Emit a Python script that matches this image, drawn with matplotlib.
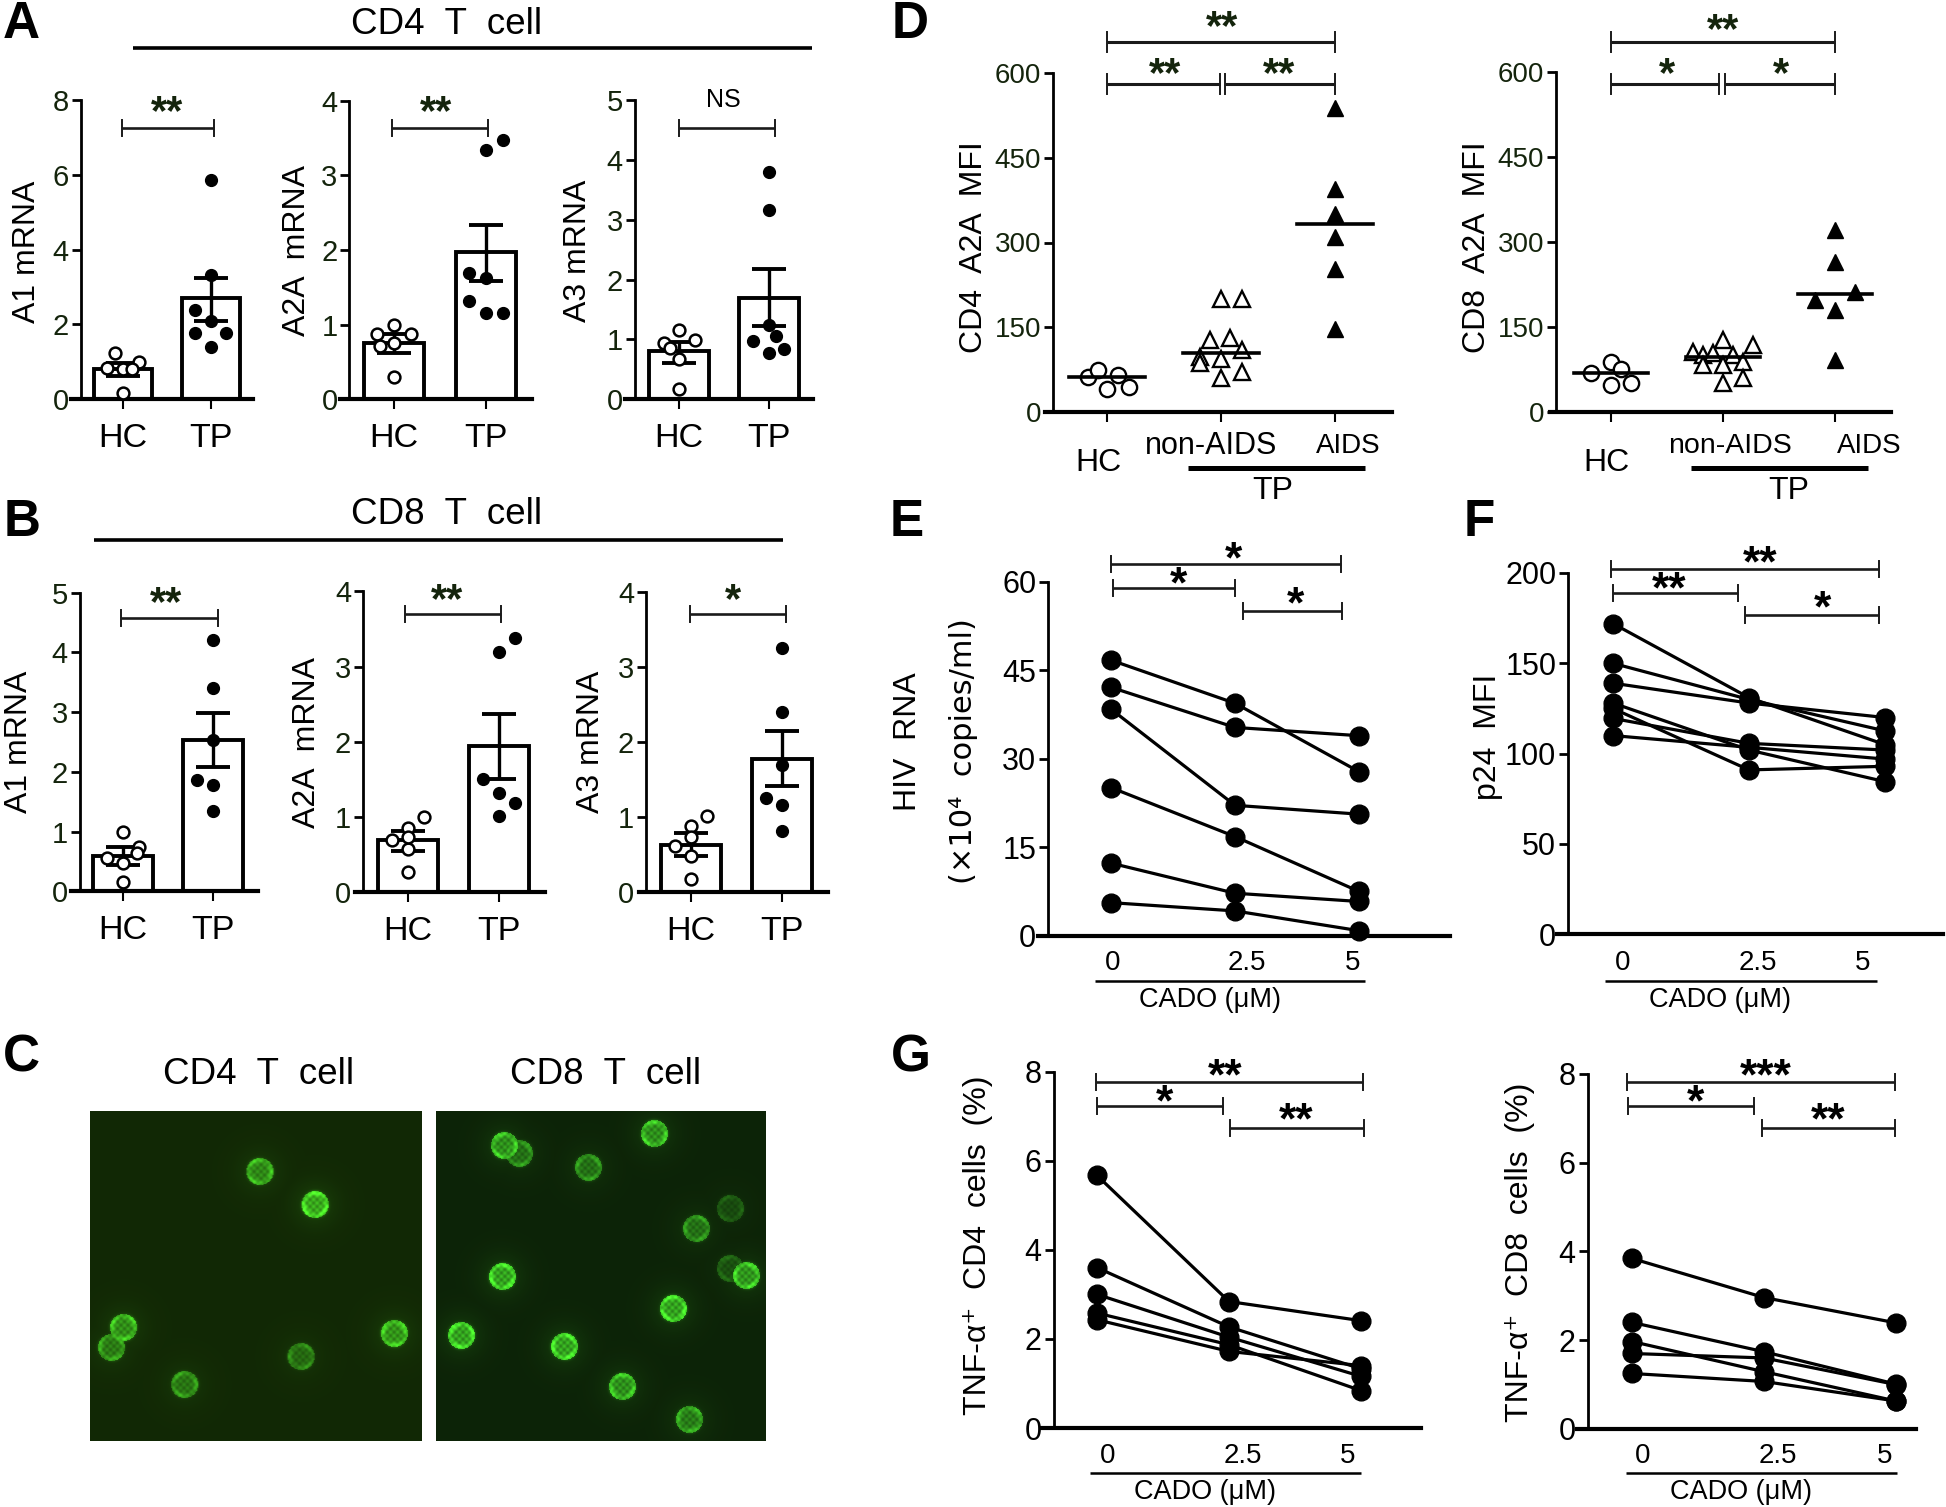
import numpy as np
import matplotlib
matplotlib.use('Agg')
import matplotlib.pyplot as plt

W, H = 1946, 1507
plt.rcParams['font.family'] = ['Liberation Sans', 'DejaVu Sans']

DARK = '#14240c'
NARROW = ['Liberation Sans Narrow', 'Liberation Sans']

# Panel A, CD4 T cell mRNA
a_a1_hc = [1.23, 1.0, 0.83, 0.82, 0.16, 0.8]
a_a1_hc_jit = [-0.09, 0.18, -0.18, 0, 0, 0.1]
a_a1_tp = [5.86, 3.32, 2.4, 2.08, 1.78, 1.78, 1.41]
a_a1_tp_jit = [0, 0, -0.18, 0, -0.18, 0.17, 0]
a_a1_mean = [0.80, 2.72]
a_a1_low = [0.62, 2.09]
a_a1_high = [0.98, 3.25]

a_a2a_hc = [1.0, 0.88, 0.88, 0.75, 0.72, 0.3]
a_a2a_hc_jit = [0, -0.18, 0.18, 0, -0.15, 0]
a_a2a_tp = [3.47, 3.34, 1.69, 1.62, 1.32, 1.15, 1.15]
a_a2a_tp_jit = [0.18, 0, -0.18, 0, -0.18, 0, 0.18]
a_a2a_mean = [0.76, 1.97]
a_a2a_low = [0.62, 1.58]
a_a2a_high = [0.88, 2.34]

a_a3_hc = [1.16, 0.99, 0.94, 0.68, 0.18, 0.85]
a_a3_hc_jit = [0, 0.18, -0.17, 0, 0, -0.1]
a_a3_tp = [3.8, 3.16, 1.24, 0.98, 1.05, 0.84, 0.78]
a_a3_tp_jit = [0, 0, 0, -0.18, 0.08, 0.17, 0]
a_a3_mean = [0.80, 1.70]
a_a3_low = [0.61, 1.23]
a_a3_high = [0.96, 2.17]

# Panel B, CD8 T cell mRNA
b_a1_hc = [1.0, 0.74, 0.55, 0.47, 0.16, 0.64]
b_a1_hc_jit = [0, 0.18, -0.18, 0, 0, 0.16]
b_a1_tp = [4.21, 3.40, 2.54, 1.87, 1.78, 1.35]
b_a1_tp_jit = [0, 0, 0, -0.18, 0, 0]
b_a1_mean = [0.59, 2.54]
b_a1_low = [0.44, 2.08]
b_a1_high = [0.74, 2.98]

b_a2a_hc = [1.0, 0.86, 0.70, 0.58, 0.27, 0.74]
b_a2a_hc_jit = [0.18, 0, -0.18, 0, 0, 0]
b_a2a_tp = [3.38, 3.19, 1.50, 1.32, 1.19, 1.01]
b_a2a_tp_jit = [0.18, 0, -0.18, 0, 0.18, 0]
b_a2a_mean = [0.70, 1.94]
b_a2a_low = [0.55, 1.51]
b_a2a_high = [0.82, 2.37]

b_a3_hc = [1.01, 0.88, 0.62, 0.48, 0.18, 0.74]
b_a3_hc_jit = [0.18, 0, -0.18, 0, 0, 0]
b_a3_tp = [3.25, 2.40, 1.70, 1.25, 1.16, 0.82]
b_a3_tp_jit = [0, 0, 0, -0.18, 0, 0]
b_a3_mean = [0.63, 1.78]
b_a3_low = [0.48, 1.41]
b_a3_high = [0.79, 2.15]

# Panel D, A2A MFI
d_cd4_hc = [63, 74, 66, 42, 45]
d_cd4_hc_jit = [-0.17, -0.08, 0.1, 0, 0.19]
d_cd4_non = [200, 201, 128, 131, 110, 98, 95, 72, 60, 87]
d_cd4_non_jit = [0, 0.18, -0.1, 0.08, 0.18, -0.18, 0, 0.18, 0, -0.18]
d_cd4_aids = [537, 394, 351, 309, 253, 147]
d_cd4_med = [63, 104, 332]

d_cd8_hc = [69, 88, 76, 51, 47]
d_cd8_hc_jit = [-0.18, 0, 0.09, 0.18, 0]
d_cd8_non = [126, 118, 106, 100, 103, 100, 82, 82, 88, 59, 50]
d_cd8_non_jit = [0, 0.27, -0.27, -0.18, -0.09, 0.09, -0.18, 0, 0.18, 0.18, 0]
d_cd8_aids = [320, 265, 212, 197, 179, 92]
d_cd8_aids_jit = [0, 0, 0.18, -0.18, 0, 0]
d_cd8_med = [69, 96, 207]

# Panels E, F, G: each row is one donor at CADO 0, 2.5, 5
e_hiv = [[46.7, 39.4, 27.8],
         [42.1, 35.3, 33.9],
         [38.4, 22.1, 20.6],
         [25.1, 16.8, 7.5],
         [12.3, 7.2, 5.8],
         [5.6, 4.2, 0.85]]
f_p24 = [[172, 131, 105],
         [150, 130, 112.6],
         [139, 128, 120],
         [128, 102, 84.5],
         [125, 91, 93],
         [119.5, 105.7, 102],
         [110, 103.5, 97]]
g_cd4 = [[5.67, 2.84, 2.41],
         [3.60, 2.27, 1.33],
         [3.0, 2.04, 1.16],
         [2.58, 1.87, 0.84],
         [2.43, 1.72, 1.40]]
g_cd8 = [[3.84, 2.96, 2.39],
         [2.40, 1.74, 1.01],
         [1.97, 1.29, 0.63],
         [1.70, 1.60, 1.0],
         [1.25, 1.07, 0.63]]
cado_labels = ['0', '2.5', '5']

# Panel C, cell centres and brightness in the micrographs
cells_cd4_x = [259, 314, 123, 111, 393, 300, 184]
cells_cd4_y = [1171, 1204, 1327, 1347, 1333, 1356, 1384]
cells_cd4_b = [0.75, 1.0, 0.8, 0.65, 0.85, 0.5, 0.6]
cells_cd8_x = [504, 519, 654, 588, 730, 696, 730, 746, 502, 673, 461, 564, 622, 689]
cells_cd8_y = [1145, 1153, 1133, 1167, 1208, 1228, 1268, 1275, 1276, 1308, 1335, 1346, 1386, 1419]
cells_cd8_b = [0.85, 0.6, 0.85, 0.6, 0.3, 0.6, 0.35, 0.9, 1.0, 1.0, 1.0, 1.0, 0.85, 0.7]

fig = plt.figure(figsize=(W / 100, H / 100), dpi=100, facecolor='white')

canvas = fig.add_axes([0, 0, 1, 1], zorder=5)
canvas.set_xlim(0, W)
canvas.set_ylim(H, 0)
canvas.axis('off')
canvas.patch.set_alpha(0)


def make_axes(left, right, axis_x, y_top, y_zero, ymax, yticks, cat_px, tick_font=None, tick_color='black', tick_size=20):
    """Axes placed by pixel box, categories 0, 1, .. land on cat_px"""
    ax = fig.add_axes([left / W, 1 - y_zero / H, (right - left) / W, (y_zero - y_top) / H])
    step = cat_px[1] - cat_px[0]
    to_x = lambda px: (px - cat_px[0]) / step
    ax.set_xlim(to_x(left), to_x(right))
    ax.set_ylim(0, ymax)
    ax.patch.set_alpha(0)
    for side in ['top', 'right']:
        ax.spines[side].set_visible(False)
    ax.spines['left'].set_position(('data', to_x(axis_x)))
    ax.spines['left'].set_linewidth(2.0)
    ax.spines['bottom'].set_linewidth(3.0)
    ax.set_yticks(yticks)
    ax.tick_params(axis='y', length=6.5, width=2, pad=2, labelsize=tick_size, labelcolor=tick_color)
    if tick_font:
        for lab in ax.get_yticklabels():
            lab.set_family(tick_font)
    ax.set_xticks([])
    return ax


def bar_panel(ax, hc, hc_jit, tp, tp_jit, mean, low, high, width):
    pos = [0, 1]
    ax.bar(pos, mean, width=width, facecolor='white', edgecolor='black', linewidth=2.8, zorder=2)
    ax.errorbar(pos, mean, yerr=[np.array(mean) - low, np.array(high) - mean], fmt='none',
                ecolor='black', elinewidth=2.4, capsize=12, capthick=2.8, zorder=3)
    ax.plot(np.array(hc_jit), hc, 'o', mfc='white', mec='black', mew=1.8, ms=8.5, zorder=4, clip_on=False)
    ax.plot(1 + np.array(tp_jit), tp, 'o', color='black', ms=8.5, zorder=4, clip_on=False)
    ax.set_xticks(pos)
    ax.set_xticklabels(['HC', 'TP'])
    ax.tick_params(axis='x', length=7, width=1.5, pad=10, labelsize=24.5)


def scatter_panel(ax, hc, hc_jit, non, non_jit, aids, aids_jit, med):
    ax.plot(np.array(hc_jit), hc, 'o', mfc='white', mec='black', mew=1.7, ms=11, clip_on=False, zorder=3)
    ax.plot(1 + np.array(non_jit), non, '^', mfc='white', mec='black', mew=1.7, ms=11, clip_on=False, zorder=3)
    ax.plot(2 + np.array(aids_jit), aids, '^', color='black', ms=12, clip_on=False, zorder=3)
    for i, m in enumerate(med):
        half = 0.33
        ax.plot([i - half, i + half], [m, m], color='black', lw=2.6, zorder=4)
    ax.set_xticks([0, 1, 2])
    ax.set_xticklabels([])
    ax.tick_params(axis='x', length=7, width=1.5)


def paired_panel(ax, rows):
    for row in rows:
        ax.plot(range(3), row, '-o', color='black', lw=2.3, ms=13.5, clip_on=False, zorder=3)


def bracket(x0, x1, y, half=8, color='#1a1a1a', lw=1.9):
    canvas.plot([x0, x1], [y, y], color=color, lw=lw, solid_capstyle='butt')
    canvas.plot([x0, x0], [y - half, y + half], color=color, lw=1.4)
    canvas.plot([x1, x1], [y - half, y + half], color=color, lw=1.4)


def stars(x, y, s, color='black', size=30):
    # asterisks sit high in the line box, so place them from the baseline
    canvas.text(x, y + size * 0.63, s, ha='center', va='baseline', fontsize=size, color=color, fontweight='bold')


def ylab(x, y, s, size=23, family=None):
    canvas.text(x + 4, y, s, rotation=90, ha='center', va='center', fontsize=size,
                family=family or ['Liberation Sans', 'DejaVu Sans'])


def label(x, y, s, size=23, family=None):
    canvas.text(x, y, s, ha='center', va='center', fontsize=size,
                family=family or ['Liberation Sans', 'DejaVu Sans'])


def hline(x0, x1, y, lw=2.2):
    canvas.plot([x0, x1], [y, y], color='black', lw=lw, solid_capstyle='butt')


def micrograph(left, right, top, bottom, xs, ys, bs, bg):
    ax = fig.add_axes([left / W, 1 - bottom / H, (right - left) / W, (bottom - top) / H])
    yy, xx = np.mgrid[top:bottom, left:right]
    glow = np.zeros_like(xx, dtype=float)
    for cx, cy, b in zip(xs, ys, bs):
        d = np.hypot(xx - cx, yy - cy) / 13.5
        ang = np.arctan2(yy - cy, xx - cx)
        # patchy ring and mottled inside, like the stained membrane
        ring = 0.5 * (0.7 + 0.3 * np.sin(3 * ang + cx)) * np.exp(-((d - 0.85) / 0.18) ** 2)
        inner = (d < 1) * (0.5 + 0.15 * np.sin(xx * 0.9) * np.sin(yy * 0.9))
        cell = inner + ring + 0.1 * np.exp(-(d / 1.7) ** 2)
        glow = np.maximum(glow, b * cell)
    img = np.dstack([bg[0] + glow * 0.25, bg[1] + glow * 0.82, bg[2] + glow * 0.15])
    ax.imshow(np.clip(img, 0, 1), aspect='auto', interpolation='bilinear')
    ax.axis('off')


# Panel letters
for s, x, y in [('A', 21, 25), ('B', 22, 523), ('C', 21, 1058), ('D', 910, 25),
                ('E', 907, 523), ('F', 1479, 523), ('G', 911, 1058)]:
    canvas.text(x, y, s, ha='center', va='center', fontsize=37, fontweight='bold')

# ---- A ----
label(447, 24, 'CD4  T  cell', 26.5)
hline(133, 812, 48, lw=2.6)
ax = make_axes(71, 253, 80.6, 100, 399.3, 8, [0, 2, 4, 6, 8], [123, 211], NARROW, DARK, 21)
bar_panel(ax, a_a1_hc, a_a1_hc_jit, a_a1_tp, a_a1_tp_jit, a_a1_mean, a_a1_low, a_a1_high, 0.66)
ax = make_axes(340, 532, 349.4, 100.7, 399.3, 4, [0, 1, 2, 3, 4], [394, 486], NARROW, DARK, 21)
bar_panel(ax, a_a2a_hc, a_a2a_hc_jit, a_a2a_tp, a_a2a_tp_jit, a_a2a_mean, a_a2a_low, a_a2a_high, 0.66)
ax = make_axes(625, 813, 634.7, 100, 399.3, 5, [0, 1, 2, 3, 4, 5], [679, 769], NARROW, DARK, 21)
bar_panel(ax, a_a3_hc, a_a3_hc_jit, a_a3_tp, a_a3_tp_jit, a_a3_mean, a_a3_low, a_a3_high, 0.66)
ylab(23, 252, 'A1 mRNA')
ylab(293, 250, 'A2A  mRNA')
ylab(574, 251, 'A3 mRNA')
bracket(122, 214, 128)
bracket(392, 488, 128)
bracket(678.5, 775, 128)
stars(167, 105, '**', DARK)
stars(436, 105, '**', DARK)
canvas.text(723, 100, 'NS', ha='center', va='center', fontsize=18, family=NARROW)

# ---- B ----
label(447, 515, 'CD8  T  cell', 26.5)
hline(94, 783, 540, lw=2.6)
ax = make_axes(71, 258, 79.5, 592.7, 891.3, 5, [0, 1, 2, 3, 4, 5], [123, 213], NARROW, DARK, 21)
bar_panel(ax, b_a1_hc, b_a1_hc_jit, b_a1_tp, b_a1_tp_jit, b_a1_mean, b_a1_low, b_a1_high, 0.66)
ax = make_axes(355, 545, 363, 591.3, 892.3, 4, [0, 1, 2, 3, 4], [408, 499], NARROW, DARK, 21)
bar_panel(ax, b_a2a_hc, b_a2a_hc_jit, b_a2a_tp, b_a2a_tp_jit, b_a2a_mean, b_a2a_low, b_a2a_high, 0.66)
ax = make_axes(639, 828, 646, 592, 892.3, 4, [0, 1, 2, 3, 4], [691, 782], NARROW, DARK, 21)
bar_panel(ax, b_a3_hc, b_a3_hc_jit, b_a3_tp, b_a3_tp_jit, b_a3_mean, b_a3_low, b_a3_high, 0.66)
ylab(15, 742, 'A1 mRNA')
ylab(303, 742, 'A2A  mRNA')
ylab(587, 742, 'A3 mRNA')
bracket(121, 218, 618)
bracket(405, 501, 614)
bracket(689.5, 785.5, 614)
stars(166, 596, '**', DARK)
stars(447, 593, '**', DARK)
stars(733, 593, '*', DARK)

# ---- C ----
label(259, 1075, 'CD4  T  cell', 26.5)
label(606, 1075, 'CD8  T  cell', 26.5)
micrograph(90, 421, 1111, 1441, cells_cd4_x, cells_cd4_y, cells_cd4_b, (0.07, 0.16, 0.02))
micrograph(436, 766, 1111, 1441, cells_cd8_x, cells_cd8_y, cells_cd8_b, (0.05, 0.14, 0.03))

# ---- D ----
ax = make_axes(1045, 1392, 1052.7, 72.7, 412.3, 600, [0, 150, 300, 450, 600], [1107, 1221], None, DARK)
scatter_panel(ax, d_cd4_hc, d_cd4_hc_jit, d_cd4_non, d_cd4_non_jit, d_cd4_aids, [0] * 6, d_cd4_med)
ax = make_axes(1550, 1891, 1556, 71.7, 411.7, 600, [0, 150, 300, 450, 600], [1611, 1723], None, DARK)
scatter_panel(ax, d_cd8_hc, d_cd8_hc_jit, d_cd8_non, d_cd8_non_jit, d_cd8_aids, d_cd8_aids_jit, d_cd8_med)
ylab(970, 247, 'CD4  A2A  MFI')
ylab(1473, 247, 'CD8  A2A  MFI')
bracket(1107, 1335, 42, 10, lw=2.2)
bracket(1107, 1220, 84, 10, lw=2.2)
bracket(1225, 1335, 84, 10, lw=2.2)
stars(1222, 20, '**', DARK)
stars(1165, 67, '**', DARK)
stars(1279, 67, '**', DARK)
bracket(1611, 1835, 42, 10, lw=2.2)
bracket(1611, 1719, 84, 10, lw=2.2)
bracket(1725, 1835, 84, 10, lw=2.2)
stars(1723, 23, '**', DARK)
stars(1667, 67, '*', DARK)
stars(1781, 67, '*', DARK)
for hc_x, non_x, aids_x, bar0, bar1, tp_x, non_size in [(1099, 1211, 1348, 1188, 1365, 1273, 22),
                                                        (1607, 1730, 1869, 1691, 1868, 1789, 20.5)]:
    label(hc_x, 463, 'HC')
    label(non_x, 446, 'non-AIDS', non_size)
    label(aids_x, 446, 'AIDS', 20)
    hline(bar0, bar1, 468, lw=3.6)
    label(tp_x, 491, 'TP')


def cado_axis(xs, y_lab, line0, line1, y_line, cado_x, y_cado):
    for s, x in zip(cado_labels, xs):
        label(x, y_lab, s, 20)
    hline(line0, line1, y_line, lw=1.8)
    label(cado_x, y_cado, 'CADO (\u03bcM)', 19.5)


# ---- E ----
ax = make_axes(1038, 1450, 1048, 581.7, 935.7, 60, [0, 15, 30, 45, 60], [1111, 1235], tick_size=22)
paired_panel(ax, e_hiv)
ylab(904, 742, 'HIV  RNA')
ylab(960, 751, '(\u00d710\u2074  copies/ml)', 22, ['DejaVu Sans'])
bracket(1111, 1341, 564)
bracket(1113, 1235, 588)
bracket(1243, 1342, 611)
stars(1233, 552, '*', size=32)
stars(1178, 577, '*', size=32)
stars(1295, 597, '*', size=32)
cado_axis([1113, 1247, 1353], 963, 1095, 1365, 981, 1210, 1000)

# ---- F ----
ax = make_axes(1557, 1943, 1568, 573, 934.3, 200, [0, 50, 100, 150, 200], [1613, 1749], tick_size=22)
paired_panel(ax, f_p24)
ylab(1484, 737, 'p24  MFI')
bracket(1611, 1879, 569)
bracket(1613, 1738, 593)
bracket(1745, 1879, 615)
stars(1760, 556, '**', size=32)
stars(1669, 582, '**', size=32)
stars(1822, 601, '*', size=32)
cado_axis([1623, 1758, 1863], 963, 1605, 1877, 981, 1720, 1000)

# ---- G ----
ax = make_axes(1042, 1421, 1053.5, 1071.7, 1428, 8, [0, 2, 4, 6, 8], [1097, 1229], tick_size=22)
paired_panel(ax, g_cd4)
ylab(974, 1245, 'TNF-\u03b1\u207a  CD4  cells  (%)')
bracket(1096, 1363, 1082)
bracket(1097, 1223, 1106)
bracket(1230, 1364, 1128)
stars(1225, 1069, '**', size=32)
stars(1164, 1095, '*', size=32)
stars(1296, 1113, '**', size=32)
cado_axis([1108, 1243, 1348], 1456, 1090, 1361, 1473, 1205, 1492)

ax = make_axes(1577, 1916, 1587.5, 1073.7, 1429, 8, [0, 2, 4, 6, 8], [1632, 1764], tick_size=22)
paired_panel(ax, g_cd8)
ylab(1516, 1252, 'TNF-\u03b1\u207a  CD8  cells  (%)')
bracket(1627, 1895, 1082)
bracket(1628, 1754, 1106)
bracket(1762, 1895, 1128)
stars(1766, 1069, '***', size=32)
stars(1695, 1095, '*', size=32)
stars(1828, 1113, '**', size=32)
cado_axis([1643, 1778, 1885], 1456, 1626, 1897, 1473, 1741, 1492)

fig.savefig('out.png', dpi=100)
plt.close(fig)
